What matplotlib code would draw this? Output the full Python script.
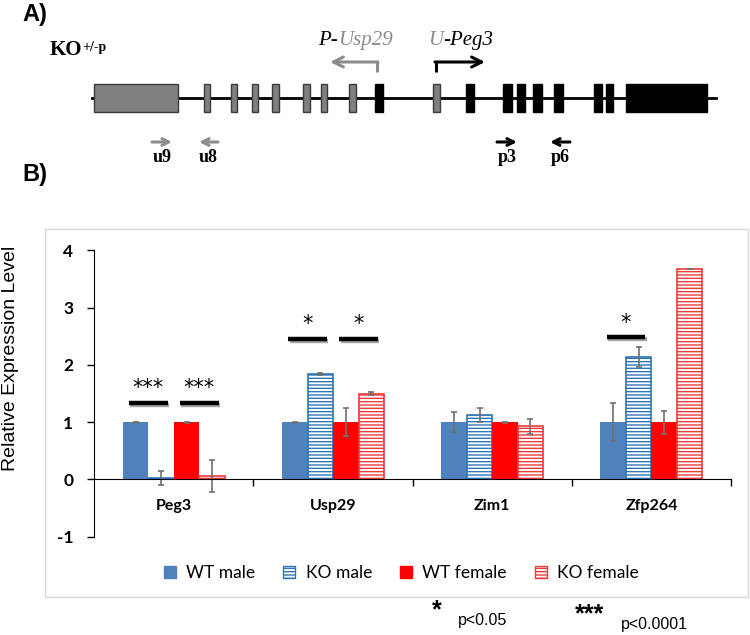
import matplotlib
matplotlib.use('Agg')
import matplotlib.pyplot as plt
import matplotlib.patheffects as pe
from matplotlib.patches import Rectangle, Patch
import numpy as np

# ---- panel B data ----
genes = ['Peg3', 'Usp29', 'Zim1', 'Zfp264']
groups = ['WT male', 'KO male', 'WT female', 'KO female']
wt_male = [1.0, 1.0, 1.0, 1.0]
wt_male_err = [0.01, 0.01, 0.17, 0.33]
ko_male = [0.03, 1.84, 1.13, 2.14]
ko_male_err = [0.12, 0.01, 0.12, 0.17]
wt_female = [1.0, 1.0, 1.0, 1.0]
wt_female_err = [0.01, 0.25, 0.01, 0.20]
ko_female = [0.06, 1.50, 0.93, 3.67]
ko_female_err = [0.28, 0.02, 0.13, 0.0]

# significance marks: gene index, pair (0 = males, 1 = females), line level, stars
sig_gene = [0, 0, 1, 1, 3]
sig_pair = [0, 1, 0, 1, 0]
sig_level = [1.34, 1.34, 2.46, 2.46, 2.48]
sig_stars = ['***', '***', '*', '*', '*']

# ---- panel A gene map (figure pixels) ----
first_exon = (94, 178)
last_exon = (626, 707)
gray_exons = [(204, 210), (231, 237), (252, 258), (272, 279), (303, 310),
              (321, 327), (349, 356), (433, 440)]
black_exons = [(375, 383), (466, 474), (503, 512), (517, 525), (533, 542),
               (554, 563), (594, 602), (606, 613)]
primer_names = ['u9', 'u8', 'p3', 'p6']
primer_start = [152, 218, 497, 570]
primer_end = [172, 199, 517, 550]
primer_color = ['#8c8c8c', '#8c8c8c', 'black', 'black']

blue = '#4F81BD'
blue_edge = '#2F75B5'
red = '#FF0000'
red_edge = '#F03A3A'
grey = '#8c8c8c'

plt.rcParams['hatch.linewidth'] = 1.0

fig = plt.figure(figsize=(7.5, 6.35), dpi=100)

# overlay for panel A and decorations, in pixel coordinates
ov = fig.add_axes([0, 0, 1, 1])
ov.set_xlim(0, 750)
ov.set_ylim(635, 0)
ov.axis('off')

ov.text(22, 14, 'A)', fontsize=17, fontweight='bold', family='Liberation Sans',
        va='center', ha='left')
ov.text(22, 174, 'B)', fontsize=17, fontweight='bold', family='Liberation Sans',
        va='center', ha='left')

ko = ov.text(50, 55, 'KO', fontsize=15, fontweight='bold', family='Liberation Serif',
             va='baseline', ha='left')
ov.annotate('+/-p', xy=(1, 0.95), xycoords=ko, fontsize=10, fontweight='bold',
            family='Liberation Serif', va='top', ha='left')

# gene line and exons
ov.plot([92, 716], [98, 98], color='black', lw=2, zorder=1)
ov.add_patch(Rectangle((first_exon[0], 84), first_exon[1] - first_exon[0], 28,
                       facecolor='#808080', edgecolor='#3a3a3a', lw=1, zorder=2))
ov.add_patch(Rectangle((last_exon[0], 84), last_exon[1] - last_exon[0], 28,
                       facecolor='black', edgecolor='black', lw=1, zorder=2))
for a, b in gray_exons:
    ov.add_patch(Rectangle((a, 84), b - a, 28, facecolor='#808080',
                           edgecolor='#3a3a3a', lw=1, zorder=2))
for a, b in black_exons:
    ov.add_patch(Rectangle((a, 84), b - a, 28, facecolor='black',
                           edgecolor='black', lw=1, zorder=2))

# promoters
ov.plot([377, 377], [72, 62], color=grey, lw=2.2, solid_capstyle='butt')
ov.annotate('', xy=(330, 62), xytext=(378, 62),
            arrowprops=dict(arrowstyle='->', color=grey, lw=2.2,
                            shrinkA=0, shrinkB=0, mutation_scale=18))
ov.plot([436, 436], [72, 62], color='black', lw=2.2, solid_capstyle='butt')
ov.annotate('', xy=(485, 62), xytext=(435, 62),
            arrowprops=dict(arrowstyle='->', color='black', lw=2.2,
                            shrinkA=0, shrinkB=0, mutation_scale=18))

t1 = ov.text(318, 50, 'P-', fontsize=15, style='italic', family='Liberation Serif',
             va='bottom', ha='left', color='black')
ov.annotate('Usp29', xy=(1, 0), xycoords=t1, fontsize=15, style='italic',
            family='Liberation Serif', va='bottom', ha='left', color=grey)
t2 = ov.text(428, 50, 'U', fontsize=15, style='italic', family='Liberation Serif',
             va='bottom', ha='left', color=grey)
ov.annotate('-Peg3', xy=(1, 0), xycoords=t2, fontsize=15, style='italic',
            family='Liberation Serif', va='bottom', ha='left', color='black')

# primers
for name, s, e, c in zip(primer_names, primer_start, primer_end, primer_color):
    ov.annotate('', xy=(e, 142), xytext=(s, 142),
                arrowprops=dict(arrowstyle='->', color=c, lw=2.2,
                                shrinkA=0, shrinkB=0, mutation_scale=12))
    ov.text((s + e) / 2, 157, name, fontsize=13, fontweight='bold',
            family='Liberation Serif', ha='center', va='center')

# chart frame
ov.add_patch(Rectangle((45, 229), 703, 368, facecolor='none',
                       edgecolor='#D9D9D9', lw=1))

# ---- panel B ----
ax = fig.add_axes([94.3 / 750, 1 - 536.7 / 635, (731 - 94.3) / 750,
                   (536.7 - 250.3) / 635])
ax.patch.set_alpha(0)

x = np.arange(len(genes)) + 0.5
w = 0.16
ekw = dict(ecolor='#707070', elinewidth=1.2, capsize=2.5, capthick=1.2)
ax.bar(x - 1.5 * w, wt_male, w, color=blue, yerr=wt_male_err, error_kw=ekw,
       label=groups[0], zorder=2)
ax.bar(x - 0.5 * w, ko_male, w, facecolor='white', edgecolor=blue_edge,
       hatch='-----', lw=1.2, yerr=ko_male_err, error_kw=ekw,
       label=groups[1], zorder=2)
ax.bar(x + 0.5 * w, wt_female, w, color=red, yerr=wt_female_err, error_kw=ekw,
       label=groups[2], zorder=2)
ax.bar(x + 1.5 * w, ko_female, w, facecolor='white', edgecolor=red_edge,
       hatch='-----', lw=1.2, yerr=ko_female_err, error_kw=ekw,
       label=groups[3], zorder=2)

for g, p, lev, st in zip(sig_gene, sig_pair, sig_level, sig_stars):
    mid = x[g] - w + p * 2 * w
    ax.plot([mid - 0.122, mid + 0.122], [lev, lev], color='black', lw=3.2,
            solid_capstyle='butt',
            path_effects=[pe.SimpleLineShadow(offset=(1, -1.5), alpha=0.35),
                          pe.Normal()])
    ax.text(mid, lev + 0.25, st, ha='center', va='center', fontsize=15,
            family='DejaVu Sans')

ax.set_xlim(0, 4)
ax.set_ylim(-1, 4)
ax.spines['top'].set_visible(False)
ax.spines['right'].set_visible(False)
ax.spines['bottom'].set_position(('data', 0))
ax.set_xticks([1, 2, 3, 4])
ax.set_xticklabels([])
ax.tick_params(axis='x', direction='out', length=5, width=1)
ax.set_yticks([-1, 0, 1, 2, 3, 4])
ax.set_yticklabels(['-1', '0', '1', '2', '3', '4'], fontsize=12.5,
                   fontweight='bold', family='Lato')
ax.tick_params(axis='y', direction='out', length=5, width=1, pad=10)
for gx, name in zip(x, genes):
    ax.text(gx, -0.47, name, ha='center', va='center', fontsize=11.5,
            fontweight='bold', family='Lato')
ax.set_ylabel('Relative Expression Level', fontsize=14, family='Liberation Sans')
ax.yaxis.set_label_coords(-0.119, 0.624)

handles = [Patch(facecolor=blue, edgecolor=blue),
           Patch(facecolor='white', edgecolor=blue_edge, hatch='-----'),
           Patch(facecolor=red, edgecolor=red),
           Patch(facecolor='white', edgecolor=red_edge, hatch='-----')]
fig.legend(handles, groups, ncol=4, loc='center', bbox_to_anchor=(0.535, 1 - 573 / 635),
           frameon=False, handlelength=0.7, handleheight=0.7, handletextpad=0.6,
           columnspacing=1.6, prop={'family': 'Lato', 'size': 12.5})

# p-value key below the chart
ov.text(437, 610, '*', fontsize=18, fontweight='bold', family='Liberation Sans',
        ha='center', va='center')
ov.text(458, 620, 'p<0.05', fontsize=11.5, family='Liberation Sans',
        ha='left', va='center')
ov.text(590, 614, '***', fontsize=18, fontweight='bold', family='Liberation Sans',
        ha='center', va='center')
ov.text(621, 625, 'p<0.0001', fontsize=11.5, family='Liberation Sans',
        ha='left', va='center')

fig.savefig('out.png', dpi=100)
